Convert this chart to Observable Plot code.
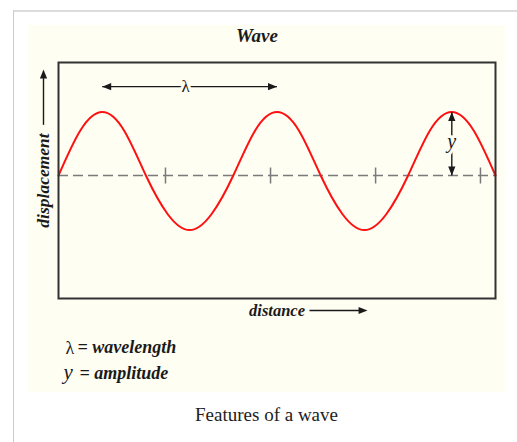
<!DOCTYPE html>
<html><head><meta charset="utf-8">
<script src="https://cdn.jsdelivr.net/npm/d3@7"></script>
<script src="https://cdn.jsdelivr.net/npm/@observablehq/plot@0.6"></script>
<style>
body{margin:0;background:#fff;width:517px;height:442px;overflow:hidden;position:relative;font-family:"Liberation Serif","Times New Roman",serif}
#box{position:absolute;left:13px;top:10px;width:520px;height:440px;border-left:1px solid #c8ccd1;border-top:2px solid #dcdcdc}
#chart{position:absolute;left:28px;top:25px;width:477px;height:367px;background:#fefef3}
#chart svg{display:block}
#caption{position:absolute;left:28px;width:477px;top:404px;line-height:22px;text-align:center;font-size:19px;color:#202122}
</style></head><body>
<div id="box"></div>
<div id="chart"></div>
<div id="caption">Features of a wave</div>
<script>
// ---- data (distance in wavelengths, displacement in amplitude units) ----
const distance = [0, 0.125, 0.25, 0.375, 0.5, 0.625, 0.75, 0.875, 1, 1.125, 1.25, 1.375, 1.5, 1.625, 1.75, 1.875, 2, 2.125, 2.25, 2.375, 2.5];
const displacement = [0, 0.71, 1, 0.71, 0, -0.61, -0.86, -0.61, 0, 0.71, 1, 0.71, 0, -0.61, -0.86, -0.61, 0, 0.71, 1, 0.71, 0];
const scaleMarks = [0.612, 1.213, 1.814, 2.414];
const titleText = "Wave";
const xLabel = "distance";
const yLabel = "displacement";
const legendSymbols = ["λ", "y"];
const legendTerms = ["= wavelength", "= amplitude"];

// ---- derived ----
const wave = distance.map((d, i) => ({x: d, y: displacement[i]}));
const peakValue = d3.max(displacement);
const peaks = wave.filter(d => d.y === peakValue);
const lambdaLevel = 1.40;
const lambdaArrow = [{x1: peaks[0].x, x2: peaks[1].x, y: lambdaLevel}];
const ampArrow = [{x: peaks[2].x, y1: 0, y2: peaks[2].y}];

const ink = "#1a1a1a";
const cream = "#fefef3";
const serif = "'Liberation Serif', 'Times New Roman', serif";

// filled narrow arrowhead, tip at origin, pointing up
const head = {draw(ctx, size) {
  const r = Math.sqrt(size / Math.PI);
  ctx.moveTo(0, 0); ctx.lineTo(-r * 0.4, r); ctx.lineTo(r * 0.4, r); ctx.closePath();
}};
// short vertical scale mark
const tickSym = {draw(ctx, size) {
  const r = Math.sqrt(size / Math.PI);
  ctx.moveTo(0, -r); ctx.lineTo(0, r);
}};
const labelFont = {fontWeight: "bold", fontStyle: "italic", fill: ink, lineAnchor: "middle"};

const plot = Plot.plot({
  width: 477, height: 367,
  marginLeft: 30, marginRight: 10, marginTop: 37, marginBottom: 94,
  x: {domain: [0, 2.5], axis: null},
  y: {domain: [-1.937, 1.78], axis: null},
  style: {background: "transparent", fontFamily: serif, overflow: "visible"},
  marks: [
    // baseline and scale marks
    Plot.ruleY([0], {stroke: "#7a7a7a", strokeWidth: 1.5, strokeDasharray: "10,5"}),
    Plot.dot(scaleMarks, {x: d => d, y: 0, symbol: tickSym, r: 8, stroke: "#7a7a7a", strokeWidth: 1.5, fill: "none"}),
    // the wave
    Plot.line(wave, {x: "x", y: "y", curve: "natural", stroke: "#ff1010", strokeWidth: 2}),
    // wavelength arrow
    Plot.link(lambdaArrow, {x1: "x1", x2: "x2", y1: "y", y2: "y", stroke: ink, strokeWidth: 1.4}),
    Plot.dot(lambdaArrow, {x: "x1", y: "y", symbol: head, r: 9, rotate: -90, fill: ink, stroke: "none"}),
    Plot.dot(lambdaArrow, {x: "x2", y: "y", symbol: head, r: 9, rotate: 90, fill: ink, stroke: "none"}),
    Plot.text(lambdaArrow, {x: d => (d.x1 + d.x2) / 2, y: "y", text: () => legendSymbols[0], dx: -4, fontSize: 17, fill: ink, stroke: cream, strokeWidth: 6, lineAnchor: "middle"}),
    // amplitude arrow
    Plot.link(ampArrow, {x1: "x", x2: "x", y1: "y1", y2: "y2", stroke: ink, strokeWidth: 1.4}),
    Plot.dot(ampArrow, {x: "x", y: "y2", symbol: head, r: 9, rotate: 0, fill: ink, stroke: "none"}),
    Plot.dot(ampArrow, {x: "x", y: "y1", symbol: head, r: 9, rotate: 180, fill: ink, stroke: "none"}),
    Plot.text(ampArrow, {x: "x", y: d => (d.y1 + d.y2) / 2, text: () => legendSymbols[1], fontSize: 20, fontStyle: "italic", fill: ink, stroke: cream, strokeWidth: 6, lineAnchor: "middle", dy: -2}),
    // y axis label + arrow
    Plot.text([yLabel], {frameAnchor: "left", textAnchor: "middle", dx: -15, rotate: -90, fontSize: 17.5, ...labelFont}),
    Plot.ruleX([0], {dx: -15, y1: 0.79, y2: 1.6, stroke: ink, strokeWidth: 1.4}),
    Plot.dot([0], {x: 0, y: 1.67, dx: -15, symbol: head, r: 9, rotate: 0, fill: ink, stroke: "none"}),
    // x axis label + arrow
    Plot.text([xLabel], {frameAnchor: "bottom", textAnchor: "middle", dy: 12, fontSize: 16.5, ...labelFont}),
    Plot.link([0], {x1: 1.436, x2: 1.73, y1: -2.126, y2: -2.126, stroke: ink, strokeWidth: 1.4}),
    Plot.dot([0], {x: 1.768, y: -2.126, symbol: head, r: 9, rotate: 90, fill: ink, stroke: "none"}),
    // title
    Plot.text([titleText], {frameAnchor: "top", textAnchor: "middle", dy: -27, dx: -20, fontSize: 19, ...labelFont}),
    // legend
    Plot.text([legendSymbols[0]], {frameAnchor: "bottom-left", textAnchor: "start", dx: 7, dy: 50, fontSize: 18, fill: ink, lineAnchor: "middle"}),
    Plot.text([legendTerms[0]], {frameAnchor: "bottom-left", textAnchor: "start", dx: 19, dy: 49, fontSize: 18, ...labelFont}),
    Plot.text([legendSymbols[1]], {frameAnchor: "bottom-left", textAnchor: "start", dx: 5, dy: 74, fontSize: 21, fontStyle: "italic", fill: ink, lineAnchor: "middle"}),
    Plot.text([legendTerms[1]], {frameAnchor: "bottom-left", textAnchor: "start", dx: 21, dy: 75, fontSize: 18, ...labelFont}),
    // frame
    Plot.frame({stroke: "#333", strokeWidth: 2})
  ]
});
document.getElementById("chart").append(plot);
</script>
</body></html>
